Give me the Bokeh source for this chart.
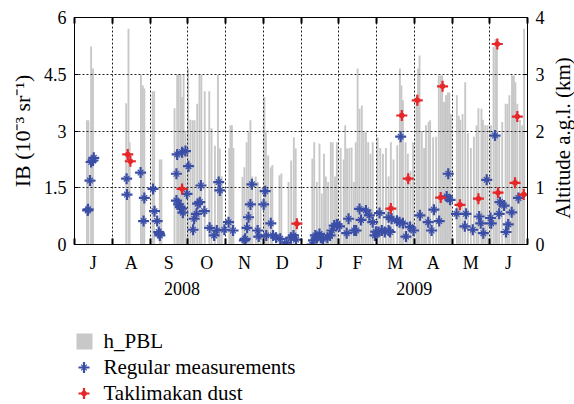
import math
from bokeh.plotting import figure
from bokeh.models import Range1d, LinearAxis, FixedTicker
from bokeh.layouts import column, row
from bokeh.embed import file_html
from bokeh.resources import INLINE
from bokeh.core.properties import value

FONT = "Liberation Serif"
BLUE = "#3b4ea6"
RED = "#e62628"
GREY = "#c8c8c8"

months = ["J", "A", "S", "O", "N", "D", "J", "F", "M", "A", "M", "J"]
years = ["2008", "2009"]
year_pos = [2.85, 9.0]
ib_ticks = [0, 1.5, 3, 4.5, 6]
ib_tick_labels = ["0", "1.5", "3", "4.5", "6"]
km_ticks = [0, 1, 2, 3, 4]
km_tick_labels = ["0", "1", "2", "3", "4"]

# x in months since 1 Jul 2008
pbl_month = [0.33, 0.37, 0.44, 0.49,
             1.37, 1.43, 1.46, 1.76, 1.81, 1.85,
             2.07, 2.11, 2.26, 2.30, 2.65, 2.72, 2.76, 2.81, 2.85, 2.89, 2.94,
             3.01, 3.07, 3.13, 3.18, 3.25, 3.31, 3.36, 3.45, 3.57, 3.63, 3.72, 3.80, 3.85, 3.90,
             4.10, 4.13, 4.17, 4.21, 4.45, 4.50, 4.56, 4.61, 4.66, 4.71, 4.80, 4.86, 4.93,
             5.03, 5.07, 5.13, 5.20, 5.24, 5.43, 5.48, 5.67, 5.74, 5.81, 5.86,
             6.30, 6.35, 6.42, 6.49, 6.55, 6.61, 6.66, 6.72, 6.79, 6.84, 6.90, 6.95,
             7.05, 7.13, 7.17, 7.22, 7.28, 7.34, 7.40, 7.45, 7.50, 7.55, 7.61, 7.66, 7.72, 7.78, 7.84, 7.90,
             8.03, 8.10, 8.17, 8.25, 8.32, 8.38, 8.45, 8.55, 8.62, 8.66, 8.70, 8.77, 8.83, 8.90, 8.97,
             9.06, 9.10, 9.14, 9.20, 9.26, 9.31, 9.38, 9.42, 9.50, 9.58, 9.65, 9.70, 9.74, 9.79, 9.84, 9.89, 9.93, 9.97,
             10.13, 10.18, 10.22, 10.28, 10.35, 10.42, 10.50, 10.58, 10.65, 10.70, 10.78, 10.82, 10.88, 10.94,
             11.03, 11.10, 11.15, 11.19, 11.25, 11.33, 11.42, 11.47, 11.52, 11.59, 11.64, 11.68, 11.73, 11.80, 11.86, 11.91]
pbl_km = [2.19, 2.19, 3.49, 3.10,
          2.49, 3.80, 1.80, 2.99, 2.80, 2.75,
          2.70, 2.70, 1.50, 1.50, 2.40, 3.00, 3.00, 3.00, 2.60, 3.00, 2.00,
          3.10, 2.20, 2.19, 2.19, 2.48, 2.99, 2.99, 2.70, 2.70, 2.05, 1.74, 2.99, 1.69, 1.20,
          1.70, 2.10, 2.10, 1.70, 1.19, 1.36, 1.80, 1.98, 2.19, 1.20, 1.20, 1.10, 1.00,
          2.60, 1.98, 1.57, 1.36, 1.40, 1.22, 1.25, 1.10, 1.48, 1.89, 1.69,
          1.51, 1.80, 1.10, 1.78, 0.90, 1.60, 1.20, 1.10, 1.80, 1.80, 1.20, 1.80,
          1.70, 1.50, 2.10, 1.69, 1.70, 1.71, 1.10, 1.80, 3.10, 2.39, 2.45, 1.98, 1.98, 1.80, 1.60, 1.80,
          1.89, 1.70, 1.60, 1.70, 1.20, 1.80, 1.50, 1.75, 3.10, 2.80, 2.54, 1.80, 1.60, 1.30, 1.80,
          2.60, 3.10, 3.33, 2.00, 1.70, 2.10, 2.16, 2.19, 1.89, 1.90, 2.98, 2.98, 2.98, 2.51, 2.63, 2.68, 2.68, 2.30,
          2.63, 2.27, 2.20, 2.30, 2.86, 1.96, 1.70, 1.90, 2.10, 2.40, 2.39, 2.20, 2.10, 2.10,
          2.10, 3.48, 3.62, 3.55, 1.90, 2.16, 2.48, 2.48, 2.63, 2.98, 2.98, 2.86, 2.48, 2.20, 2.10, 3.80]

reg_month = [0.35, 0.36, 0.41, 0.44, 0.51, 0.49,
             1.38, 1.39, 1.75, 1.85, 1.83,
             2.08, 2.12, 2.19, 2.23, 2.26, 2.25, 2.70, 2.72, 2.70, 2.76, 2.80, 2.84, 2.87, 2.85, 2.94, 2.98,
             3.02, 3.14, 3.17, 3.23, 3.26, 3.32, 3.35, 3.44, 3.58, 3.70, 3.77, 3.82, 3.85, 3.97,
             4.08, 4.20, 4.50, 4.52, 4.57, 4.61, 4.66, 4.70, 4.85, 4.88, 5.01, 5.05,
             5.08, 5.20, 5.26, 5.34, 5.45, 5.56, 5.62, 5.73, 5.80, 5.87,
             6.29, 6.33, 6.38, 6.42, 6.49, 6.53, 6.58, 6.70, 6.77, 6.82, 6.88, 6.95, 7.02,
             7.21, 7.26, 7.41, 7.46, 7.55, 7.59, 7.72, 7.81, 7.90, 7.96, 7.98,
             8.05, 8.08, 8.14, 8.22, 8.32, 8.36, 8.32, 8.40, 8.54, 8.61, 8.64, 8.70, 8.78, 8.89, 8.98,
             9.15, 9.37, 9.46, 9.52, 9.66, 9.86, 9.90, 9.95,
             10.12, 10.34, 10.37, 10.55, 10.72, 10.76, 10.83, 10.92, 11.02, 11.04,
             11.14, 11.25, 11.27, 11.38, 11.43, 11.49, 11.58, 11.76]
reg_ib = [0.90, 0.93, 1.69, 2.18, 2.29, 2.22,
          1.74, 1.32, 1.90, 1.23, 0.62,
          1.47, 0.88, 0.62, 0.33, 0.24, 0.29, 1.87, 2.38, 1.16, 1.06, 0.99, 0.95, 0.84, 2.44, 2.47, 1.34,
          2.07, 0.39, 0.68, 0.81, 1.08, 1.12, 1.56, 0.88, 0.44, 0.24, 0.37, 1.65, 1.43, 0.39,
          0.59, 0.37, 0.11, 0.15, 0.44, 0.72, 1.06, 1.59, 0.37, 0.21, 1.06, 1.41,
          0.24, 0.56, 0.24, 0.18, 0.15, -0.05, 0.05, 0.18, 0.24, 0.13,
          0.00, 0.11, 0.24, 0.18, 0.28, 0.18, 0.15, 0.18, 0.24, 0.37, 0.50, 0.53, 0.48,
          0.30, 0.68, 0.37, 0.37, 0.94, 0.65, 0.90, 0.77, 0.59, 0.24, 0.34,
          0.33, 0.83, 0.37, 0.33, 0.37, 0.33, 0.72, 0.68, 0.63, 0.59, 2.85, 0.56, 0.21, 0.46, 0.37,
          0.77, 0.59, 0.37, 0.92, 0.62, 1.27, 1.87, 1.18,
          0.81, 0.48, 0.81, 0.39, 0.74, 0.56, 0.30, 1.71, 0.70, 0.56,
          2.88, 0.81, 1.12, 1.03, 0.33, 0.53, 0.85, 1.23]

dust_month = [1.41, 1.48, 2.85, 5.89, 8.38, 8.67, 8.84, 9.08, 9.70, 9.75,
              10.21, 10.70, 11.20, 11.22, 11.67, 11.73, 11.90]
dust_ib = [2.38, 2.20, 1.47, 0.55, 0.95, 3.41, 1.74, 3.81, 1.24, 4.18,
           1.05, 1.21, 5.30, 1.37, 1.63, 3.38, 1.32]

legend_labels = ["h_PBL", "Regular measurements", "Taklimakan dust"]
right_label = "Altitude a.g.l. (km)"
left_label = "IB (10\u207b\u00b3 sr\u207b\u00b9)"

p = figure(width=548, height=310, x_range=Range1d(0, 12), y_range=Range1d(0, 6),
           output_backend="svg", toolbar_location=None,
           min_border_left=74, min_border_right=21, min_border_top=17, min_border_bottom=66)
p.extra_y_ranges = {"km": Range1d(0, 4)}
p.outline_line_color = "black"
p.outline_line_width = 1
p.background_fill_color = "white"
p.border_fill_color = "white"


def style_axis(ax, size="18px", label_size="20px"):
    ax.major_label_text_font = FONT
    ax.major_label_text_font_size = size
    ax.major_label_text_color = "black"
    ax.axis_label_text_font = FONT
    ax.axis_label_text_font_size = label_size
    ax.axis_label_text_font_style = "normal"
    ax.axis_label_text_color = "black"
    ax.axis_line_color = "black"


# bottom month axis
xa = p.xaxis[0]
xa.ticker = FixedTicker(ticks=[i + 0.5 for i in range(12)], minor_ticks=list(range(13)))
xa.major_label_overrides = {i + 0.5: m for i, m in enumerate(months)}
xa.major_tick_line_color = None
xa.minor_tick_in = 6
xa.minor_tick_out = 0
xa.minor_tick_line_width = 2
xa.minor_tick_line_color = "black"
xa.major_label_standoff = 2
style_axis(xa)

# year axis
ya_year = LinearAxis(ticker=FixedTicker(ticks=year_pos),
                     major_label_overrides={v: t for v, t in zip(year_pos, years)})
style_axis(ya_year)
ya_year.axis_line_color = None
ya_year.major_tick_line_color = None
ya_year.minor_tick_line_color = None
ya_year.major_label_standoff = 0
p.add_layout(ya_year, "below")

# top axis (ticks only)
ta = LinearAxis(ticker=FixedTicker(ticks=[], minor_ticks=list(range(13))))
ta.minor_tick_in = 6
ta.minor_tick_out = 0
ta.minor_tick_line_width = 2
ta.minor_tick_line_color = "black"
ta.major_label_text_font_size = "0px"
ta.major_label_standoff = 0
ta.axis_line_color = "black"
p.add_layout(ta, "above")

# left axis
la = p.yaxis[0]
la.ticker = FixedTicker(ticks=ib_ticks)
la.major_label_overrides = {v: t for v, t in zip(ib_ticks, ib_tick_labels)}
la.major_tick_in = 4
la.major_tick_out = 0
la.minor_tick_line_color = None
la.major_label_standoff = 8
la.axis_label = left_label
la.axis_label_standoff = 6
style_axis(la, label_size="22px")

# right axis (ticks + labels)
ra = LinearAxis(y_range_name="km", ticker=FixedTicker(ticks=km_ticks),
                major_label_overrides={v: t for v, t in zip(km_ticks, km_tick_labels)})
ra.major_tick_in = 4
ra.major_tick_out = 0
ra.minor_tick_line_color = None
ra.major_label_standoff = 8
style_axis(ra)
p.add_layout(ra, "right")

# grids
p.xgrid.ticker = FixedTicker(ticks=list(range(1, 12)))
p.ygrid.ticker = FixedTicker(ticks=[1.5, 3, 4.5])
for g in (p.xgrid[0], p.ygrid[0]):
    g.grid_line_color = "#222222"
    g.grid_line_dash = "2 2"
    g.grid_line_width = 1
    g.level = "underlay"


def draw_regular(fig, xs, ys):
    fig.scatter(xs, ys, marker="x", size=8, line_color=BLUE, line_width=1.2)
    fig.scatter(xs, ys, marker="cross", size=11, line_color=BLUE, line_width=2.2)


def draw_dust(fig, xs, ys):
    fig.scatter(xs, ys, marker="cross", size=11, line_color=RED, line_width=2.2)
    fig.scatter(xs, ys, marker="circle", size=5.5, fill_color=RED, line_color=None)


p.vbar(x=pbl_month, top=pbl_km, bottom=0, width=0.05, y_range_name="km",
       fill_color=GREY, line_color=None, level="image")
draw_regular(p, reg_month, reg_ib)
draw_dust(p, dust_month, dust_ib)

# right-hand title panel (page-pixel units), text reads bottom-to-top
rf = figure(width=26, height=310, x_range=Range1d(548, 574), y_range=Range1d(244, 17),
            output_backend="svg", toolbar_location=None,
            x_axis_location=None, y_axis_location=None,
            min_border_left=0, min_border_right=0, min_border_top=17, min_border_bottom=66)
rf.outline_line_color = None
rf.xgrid.visible = False
rf.ygrid.visible = False
rf.text(x=[562], y=[137.5], text=[right_label], angle=math.pi / 2,
        text_font=value(FONT), text_font_size="21px", text_baseline="middle",
        text_align="center", text_color="black")

# legend panel below (page-pixel units)
lg = figure(width=548, height=94, x_range=Range1d(74, 527), y_range=Range1d(404, 310),
            output_backend="svg", toolbar_location=None,
            x_axis_location=None, y_axis_location=None,
            min_border_left=74, min_border_right=21, min_border_top=0, min_border_bottom=0)
lg.outline_line_color = None
lg.xgrid.visible = False
lg.ygrid.visible = False
lg.rect(x=[84], y=[341], width=16, height=16, fill_color=GREY, line_color=None)
draw_regular(lg, [83.5], [367])
draw_dust(lg, [83.5], [393])
lg.text(x=[103, 103, 103], y=[340, 366, 392], text=legend_labels,
        text_font=value(FONT), text_font_size="21px", text_baseline="middle",
        text_align="left", text_color="black")

layout = column(row(p, rf, spacing=0), lg, spacing=0)
open("out.html", "w").write(file_html(layout, INLINE))
